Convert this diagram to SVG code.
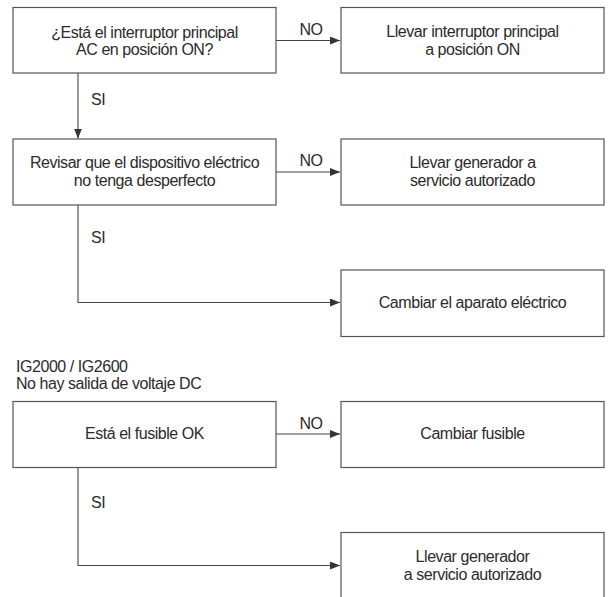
<svg xmlns="http://www.w3.org/2000/svg" width="613" height="597" viewBox="0 0 613 597">
  <defs>
    <marker id="arrow" viewBox="0 0 10 8" refX="10" refY="4" markerWidth="10" markerHeight="8" markerUnits="userSpaceOnUse" orient="auto">
      <path d="M0,0 L10,4 L0,8 Z" fill="#333"/>
    </marker>
    <style>
      .box { fill: #fff; stroke: #555; stroke-width: 1.2; }
      .lbl { font-family: "Liberation Sans", Arial, sans-serif; font-size: 16px; letter-spacing: -0.45px; fill: #2b2b2b; }
      .mid { text-anchor: middle; }
      .edge { fill: none; stroke: #444; stroke-width: 1.1; }
      .arr { marker-end: url(#arrow); }
    </style>
  </defs>
  <rect width="613" height="597" fill="#fff"/>

  <!-- connectors -->
  <g id="connectors">
    <path class="edge arr" d="M276,40.5 H340"/>
    <path class="edge arr" d="M78,73 V138.5"/>
    <path class="edge arr" d="M276,172 H340"/>
    <path class="edge arr" d="M78,205 V302.5 H340"/>
    <path class="edge arr" d="M276,434 H340"/>
    <path class="edge arr" d="M78,467.5 V565.5 H340"/>
    <text class="lbl mid" x="311" y="35">NO</text>
    <text class="lbl mid" x="311" y="166">NO</text>
    <text class="lbl mid" x="311" y="429">NO</text>
    <text class="lbl" x="91" y="105">SI</text>
    <text class="lbl" x="91" y="243">SI</text>
    <text class="lbl" x="91" y="508">SI</text>
  </g>

  <!-- first chart: AC output -->
  <g id="q-main-switch">
    <rect class="box" x="13" y="7.5" width="263" height="65.5"/>
    <text class="lbl mid" x="144.5" y="37.5">¿Está el interruptor principal</text>
    <text class="lbl mid" x="144.5" y="55">AC en posición ON?</text>
  </g>
  <g id="set-switch-on">
    <rect class="box" x="341" y="7.5" width="263" height="65.5"/>
    <text class="lbl mid" x="472.5" y="37">Llevar interruptor principal</text>
    <text class="lbl mid" x="472.5" y="55">a posición ON</text>
  </g>
  <g id="check-device">
    <rect class="box" x="13" y="139" width="263" height="66"/>
    <text class="lbl mid" x="144.5" y="167.5">Revisar que el dispositivo eléctrico</text>
    <text class="lbl mid" x="144.5" y="185.5">no tenga desperfecto</text>
  </g>
  <g id="service-1">
    <rect class="box" x="341" y="139" width="263" height="66"/>
    <text class="lbl mid" x="472.5" y="167.5">Llevar generador a</text>
    <text class="lbl mid" x="472.5" y="185.5">servicio autorizado</text>
  </g>
  <g id="replace-device">
    <rect class="box" x="341" y="270" width="263" height="66.5"/>
    <text class="lbl mid" x="472.5" y="308">Cambiar el aparato eléctrico</text>
  </g>

  <!-- second chart: DC output -->
  <g id="dc-title">
    <text class="lbl" x="16" y="372">IG2000 / IG2600</text>
    <text class="lbl" x="16" y="389">No hay salida de voltaje DC</text>
  </g>
  <g id="q-fuse">
    <rect class="box" x="13" y="401.5" width="263" height="66"/>
    <text class="lbl mid" x="144.5" y="439">Está el fusible OK</text>
  </g>
  <g id="replace-fuse">
    <rect class="box" x="341" y="401.5" width="263" height="66"/>
    <text class="lbl mid" x="472.5" y="439">Cambiar fusible</text>
  </g>
  <g id="service-2">
    <rect class="box" x="341" y="532.5" width="263" height="70"/>
    <text class="lbl mid" x="472.5" y="562">Llevar generador</text>
    <text class="lbl mid" x="472.5" y="580">a servicio autorizado</text>
  </g>
</svg>
